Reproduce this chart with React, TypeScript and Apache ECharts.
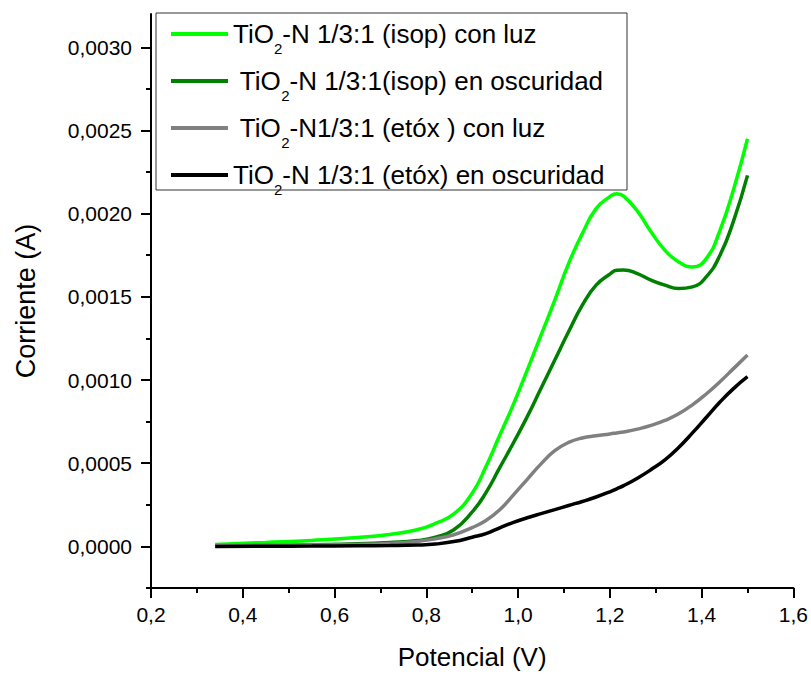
import React, { useEffect, useRef } from "react";
import * as echarts from "echarts";

const potencial = [0.34, 0.45, 0.55, 0.65, 0.72, 0.78, 0.82, 0.86, 0.9, 0.93, 0.96, 0.99, 1.02, 1.05, 1.08, 1.11, 1.14, 1.17, 1.2, 1.215, 1.23, 1.26, 1.29, 1.32, 1.35, 1.38, 1.41, 1.44, 1.47, 1.5];

const isopLuz = [0.000012, 0.000024, 0.000036, 0.000053, 0.000072, 0.0001, 0.000138, 0.000195, 0.00032, 0.00048, 0.000668, 0.000855, 0.00106, 0.00127, 0.00148, 0.0017, 0.00188, 0.00203, 0.002102, 0.00212, 0.002105, 0.002015, 0.00189, 0.00178, 0.00171, 0.00168, 0.00173, 0.0019, 0.00215, 0.00245];
const isopOscuridad = [0.000003, 0.000006, 0.00001, 0.000016, 0.000024, 0.000035, 0.000055, 0.0001, 0.000207, 0.000323, 0.000473, 0.000623, 0.00078, 0.00095, 0.00112, 0.00129, 0.00145, 0.00157, 0.001637, 0.00166, 0.001662, 0.00164, 0.0016, 0.00157, 0.00155, 0.00156, 0.00162, 0.00175, 0.00196, 0.00223];
const etoxLuz = [0.000005, 0.000006, 0.000008, 0.000012, 0.000018, 0.00003, 0.000046, 0.00007, 0.000113, 0.000156, 0.00022, 0.00031, 0.000403, 0.000496, 0.000575, 0.000625, 0.000652, 0.000665, 0.000676, 0.000682, 0.000688, 0.000705, 0.000727, 0.000757, 0.000797, 0.000851, 0.000916, 0.00099, 0.00107, 0.00115];
const etoxOscuridad = [0.0, 0.000001, 0.000002, 0.000004, 0.000005, 0.000008, 0.000014, 0.000029, 0.000055, 0.000077, 0.000112, 0.000145, 0.000172, 0.000197, 0.000221, 0.000246, 0.00027, 0.000297, 0.000328, 0.000346, 0.000365, 0.00041, 0.000462, 0.00052, 0.000595, 0.000682, 0.000775, 0.000868, 0.00095, 0.00102];

const seriesNames = [
  "TiO2-N 1/3:1 (isop) con luz",
  " TiO2-N 1/3:1(isop) en oscuridad",
  " TiO2-N1/3:1 (etóx ) con luz",
  "TiO2-N 1/3:1 (etóx) en oscuridad",
];
const seriesColors = ["#00FF00", "#008000", "#808080", "#000000"];

const xTicks = [0.2, 0.4, 0.6, 0.8, 1.0, 1.2, 1.4, 1.6];
const yMajorTicks = [0, 0.0005, 0.001, 0.0015, 0.002, 0.0025, 0.003];
const yMinorTicks = [-0.00025, 0.00025, 0.00075, 0.00125, 0.00175, 0.00225, 0.00275];
const yMin = -0.00025;
const yMax = 0.0032;

const FONT = 'Arial, "Liberation Sans", sans-serif';

function legendFmt(name: string): string {
  const i = name.indexOf("TiO2");
  const before = name.slice(0, i);
  const after = name.slice(i + 4);
  return `{m|${before}TiO}{sub|2}{m|${after}}`;
}

export default function App() {
  const ref = useRef<HTMLDivElement>(null);
  useEffect(() => {
    if (!ref.current) return;
    const chart = echarts.init(ref.current, undefined, { renderer: "svg" });
    const dataSets = [isopLuz, isopOscuridad, etoxLuz, etoxOscuridad];
    chart.setOption({
      animation: false,
      backgroundColor: "#fff",
      grid: { left: 151, right: 17, top: 14, bottom: 85, containLabel: false },
      xAxis: {
        type: "value",
        min: xTicks[0],
        max: xTicks[xTicks.length - 1],
        interval: 0.2,
        name: "Potencial (V)",
        nameLocation: "middle",
        nameGap: 56,
        nameTextStyle: { fontSize: 26, color: "#000", fontFamily: FONT },
        axisLine: { show: true, onZero: false, lineStyle: { color: "#000", width: 2 } },
        axisTick: { show: true, length: 10, lineStyle: { color: "#000", width: 2 } },
        minorTick: { show: true, splitNumber: 2, length: 5, lineStyle: { color: "#000", width: 2 } },
        axisLabel: {
          fontSize: 21,
          color: "#000",
          fontFamily: FONT,
          margin: 16,
          formatter: (v: number) => v.toFixed(1).replace(".", ","),
        },
        splitLine: { show: false },
        minorSplitLine: { show: false },
      },
      yAxis: [
        {
          type: "value",
          min: yMin,
          max: yMax,
          position: "left",
          name: "Corriente (A)",
          nameLocation: "middle",
          nameGap: 112,
          nameTextStyle: { fontSize: 27, color: "#000", fontFamily: FONT },
          axisLine: { show: true, onZero: false, lineStyle: { color: "#000", width: 2 } },
          axisTick: { show: true, customValues: yMajorTicks, length: 10, lineStyle: { color: "#000", width: 2 } },
          axisLabel: {
            customValues: yMajorTicks,
            fontSize: 21,
            color: "#000",
            fontFamily: FONT,
            margin: 19,
            formatter: (v: number) => v.toFixed(4).replace(".", ","),
          },
          splitLine: { show: false },
        },
        {
          type: "value",
          min: yMin,
          max: yMax,
          position: "left",
          axisLine: { show: false },
          axisTick: { show: true, customValues: yMinorTicks, length: 5, lineStyle: { color: "#000", width: 2 } },
          axisLabel: { show: false },
          splitLine: { show: false },
        },
      ],
      legend: {
        orient: "vertical",
        left: 171,
        top: 12,
        padding: 0,
        itemGap: 3,
        itemWidth: 57,
        itemHeight: 4,
        icon: "rect",
        data: seriesNames,
        formatter: legendFmt,
        textStyle: {
          color: "#000",
          fontSize: 26,
          fontFamily: FONT,
          rich: {
            m: { fontSize: 26, lineHeight: 30, color: "#000", fontFamily: FONT },
            sub: { fontSize: 15, lineHeight: 12, padding: [29, 0, 0, 0], color: "#000", fontFamily: FONT },
          },
        },
      },
      graphic: [
        {
          type: "rect",
          silent: true,
          shape: { x: 156, y: 13, width: 471, height: 177 },
          style: { fill: "none", stroke: "#333", lineWidth: 1 },
          z: 100,
        },
      ],
      series: seriesNames.map((name, k) => ({
        name,
        type: "line",
        showSymbol: false,
        symbol: "none",
        smooth: 0.5,
        color: seriesColors[k],
        lineStyle: { color: seriesColors[k], width: 3.5 },
        data: potencial.map((x, i) => [x, dataSets[k][i]]),
        z: 2 + k,
      })),
    });
    return () => chart.dispose();
  }, []);
  return (
    <div
      ref={ref}
      style={{ position: "fixed", left: 0, top: 0, width: 811, height: 675, background: "#fff" }}
    />
  );
}
